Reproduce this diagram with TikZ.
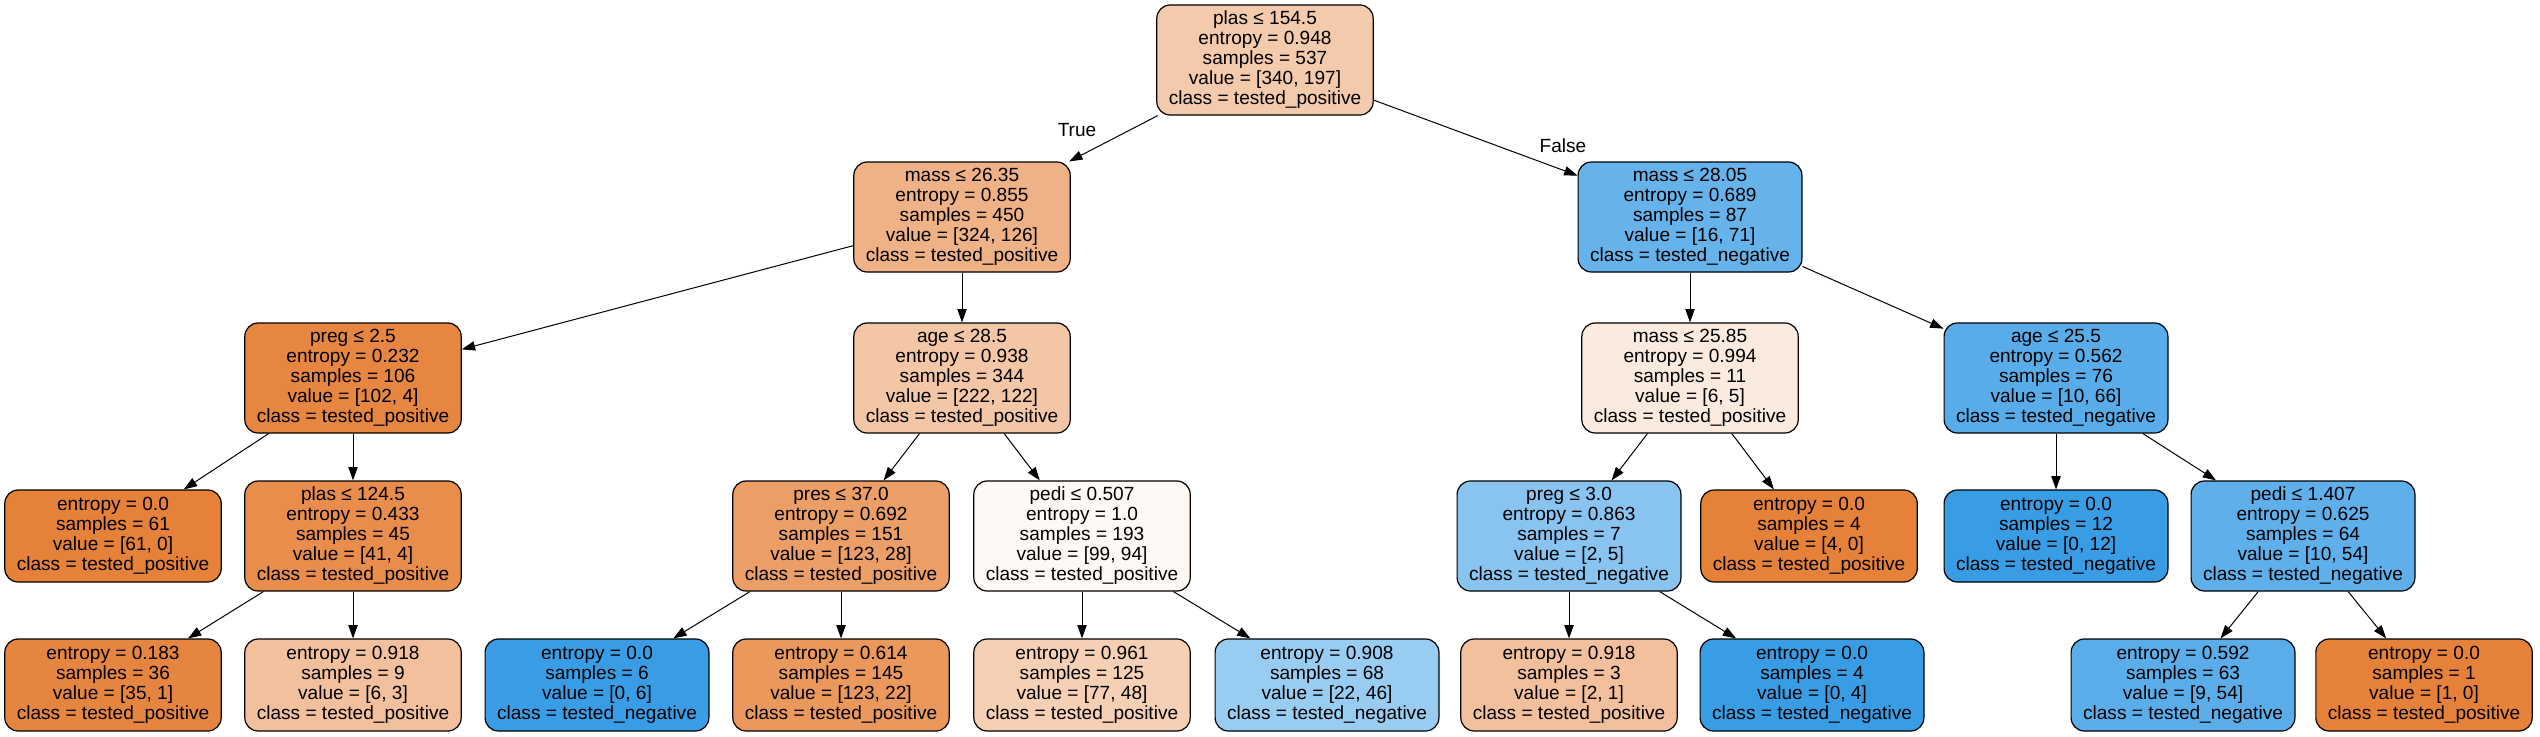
\documentclass[tikz,border=0pt]{standalone}
\usepackage{fontspec}
\setmainfont{Liberation Sans}
\usetikzlibrary{arrows.meta}
\definecolor{cA}{RGB}{244,202,172}
\definecolor{cB}{RGB}{239,178,134}
\definecolor{cC}{RGB}{102,179,235}
\definecolor{cD}{RGB}{230,134,65}
\definecolor{cE}{RGB}{243,198,166}
\definecolor{cF}{RGB}{251,234,222}
\definecolor{cG}{RGB}{87,172,233}
\definecolor{cOr}{RGB}{229,129,57}
\definecolor{cH}{RGB}{232,141,76}
\definecolor{cI}{RGB}{235,158,102}
\definecolor{cJ}{RGB}{254,249,245}
\definecolor{cK}{RGB}{136,196,239}
\definecolor{cBl}{RGB}{57,157,229}
\definecolor{cL}{RGB}{94,175,234}
\definecolor{cM}{RGB}{230,133,63}
\definecolor{cN}{RGB}{242,192,156}
\definecolor{cP}{RGB}{234,152,92}
\definecolor{cQ}{RGB}{245,208,180}
\definecolor{cR}{RGB}{152,204,241}
\definecolor{cS}{RGB}{90,173,233}
\begin{document}
\begin{tikzpicture}[x=0.75pt,y=-0.75pt,
  tn/.style={draw=black, line width=0.9pt, rounded corners=10pt, align=center,
    font=\fontsize{14.3}{15}\selectfont, inner xsep=9pt, inner ysep=0pt},
  inner/.style={tn, minimum height=82.5pt},
  leaf/.style={tn, minimum height=69pt},
  edge/.style={draw=black, line width=0.75pt, -{Triangle[length=10pt,width=7pt]}},
  elab/.style={font=\fontsize{14.3}{15}\selectfont}]
\useasboundingbox (0,0) rectangle (2540,736);
\fill[white] (0,0) rectangle (2540,736);

\node[inner, fill=cA] (n0) at (1265,60) {plas ≤ 154.5\\entropy = 0.948\\samples = 537\\value = [340, 197]\\class = tested\_positive};
\node[inner, fill=cB] (n1) at (962,217) {mass ≤ 26.35\\entropy = 0.855\\samples = 450\\value = [324, 126]\\class = tested\_positive};
\node[inner, fill=cC] (n2) at (1690,217) {mass ≤ 28.05\\entropy = 0.689\\samples = 87\\value = [16, 71]\\class = tested\_negative};
\node[inner, fill=cD] (n3) at (353,378) {preg ≤ 2.5\\entropy = 0.232\\samples = 106\\value = [102, 4]\\class = tested\_positive};
\node[inner, fill=cE] (n4) at (962,378) {age ≤ 28.5\\entropy = 0.938\\samples = 344\\value = [222, 122]\\class = tested\_positive};
\node[inner, fill=cF] (n5) at (1690,378) {mass ≤ 25.85\\entropy = 0.994\\samples = 11\\value = [6, 5]\\class = tested\_positive};
\node[inner, fill=cG] (n6) at (2056,378) {age ≤ 25.5\\entropy = 0.562\\samples = 76\\value = [10, 66]\\class = tested\_negative};
\node[leaf, fill=cOr] (n7) at (113,536) {entropy = 0.0\\samples = 61\\value = [61, 0]\\class = tested\_positive};
\node[inner, fill=cH] (n8) at (353,536) {plas ≤ 124.5\\entropy = 0.433\\samples = 45\\value = [41, 4]\\class = tested\_positive};
\node[inner, fill=cI] (n9) at (841,536) {pres ≤ 37.0\\entropy = 0.692\\samples = 151\\value = [123, 28]\\class = tested\_positive};
\node[inner, fill=cJ] (n10) at (1082,536) {pedi ≤ 0.507\\entropy = 1.0\\samples = 193\\value = [99, 94]\\class = tested\_positive};
\node[inner, fill=cK] (n11) at (1569,536) {preg ≤ 3.0\\entropy = 0.863\\samples = 7\\value = [2, 5]\\class = tested\_negative};
\node[leaf, fill=cOr] (n12) at (1809,536) {entropy = 0.0\\samples = 4\\value = [4, 0]\\class = tested\_positive};
\node[leaf, fill=cBl] (n13) at (2056,536) {entropy = 0.0\\samples = 12\\value = [0, 12]\\class = tested\_negative};
\node[inner, fill=cL] (n14) at (2303,536) {pedi ≤ 1.407\\entropy = 0.625\\samples = 64\\value = [10, 54]\\class = tested\_negative};
\node[leaf, fill=cM] (n15) at (113,685) {entropy = 0.183\\samples = 36\\value = [35, 1]\\class = tested\_positive};
\node[leaf, fill=cN] (n16) at (353,685) {entropy = 0.918\\samples = 9\\value = [6, 3]\\class = tested\_positive};
\node[leaf, fill=cBl] (n17) at (597,685) {entropy = 0.0\\samples = 6\\value = [0, 6]\\class = tested\_negative};
\node[leaf, fill=cP] (n18) at (841,685) {entropy = 0.614\\samples = 145\\value = [123, 22]\\class = tested\_positive};
\node[leaf, fill=cQ] (n19) at (1082,685) {entropy = 0.961\\samples = 125\\value = [77, 48]\\class = tested\_positive};
\node[leaf, fill=cR] (n20) at (1327,685) {entropy = 0.908\\samples = 68\\value = [22, 46]\\class = tested\_negative};
\node[leaf, fill=cN] (n21) at (1569,685) {entropy = 0.918\\samples = 3\\value = [2, 1]\\class = tested\_positive};
\node[leaf, fill=cBl] (n22) at (1812,685) {entropy = 0.0\\samples = 4\\value = [0, 4]\\class = tested\_negative};
\node[leaf, fill=cS] (n23) at (2183,685) {entropy = 0.592\\samples = 63\\value = [9, 54]\\class = tested\_negative};
\node[leaf, fill=cOr] (n24) at (2424,685) {entropy = 0.0\\samples = 1\\value = [1, 0]\\class = tested\_positive};

\node[elab] (lT) at (1077,130) {True};
\node[elab] (lF) at (1563,146) {False};

\foreach \a/\b in {n0/n1,n0/n2,n1/n3,n1/n4,n2/n5,n2/n6,n3/n7,n3/n8,n4/n9,n4/n10,
  n5/n11,n5/n12,n6/n13,n6/n14,n8/n15,n8/n16,n9/n17,n9/n18,n10/n19,n10/n20,
  n11/n21,n11/n22,n14/n23,n14/n24}
  \draw[edge] (\a) -- (\b);
\end{tikzpicture}
\end{document}
